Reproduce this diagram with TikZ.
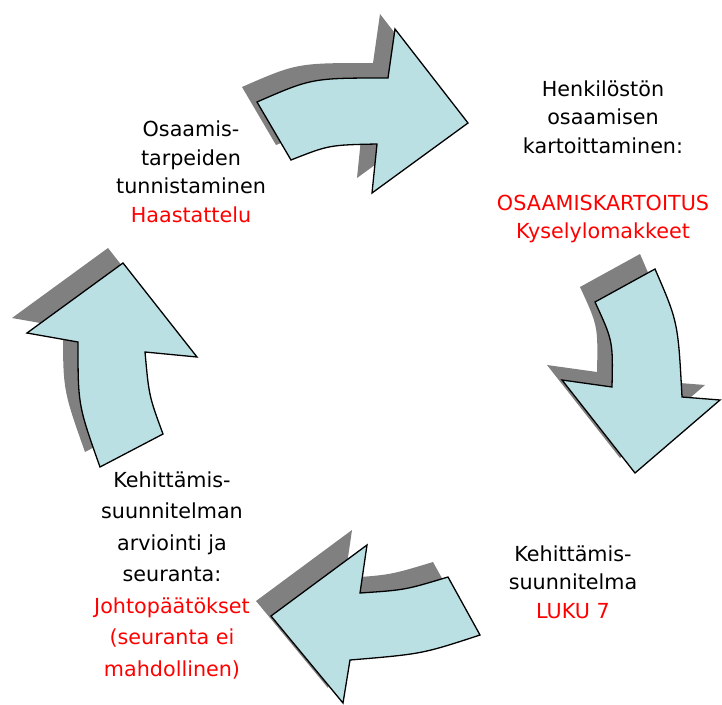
\documentclass[tikz,border=0pt]{standalone}
\usepackage{fontspec}
\setmainfont{DejaVu Sans}
\usetikzlibrary{calc}
\definecolor{arrowblue}{RGB}{187,224,227}
\definecolor{shadowgray}{RGB}{128,128,128}

% outlines of the four block arrows (picture coordinates)
\newcommand*{\arrownorth}{(257,102) -- (291,160) .. controls (329,145) .. (377,144)
  -- (372,193) -- (468,123) -- (395,29) -- (388,78) .. controls (312,78) .. cycle}
\newcommand*{\arroweast}{(595,302) -- (655,269) .. controls (678,322) .. (682,397)
  -- (720,400) -- (635,473) -- (562,380) -- (612,387) .. controls (613,341) .. cycle}
\newcommand*{\arrowsouth}{(448,577) -- (480,635) .. controls (422,654) .. (350,660)
  -- (343,703) -- (271,616) -- (367,545) -- (360,593) .. controls (405,590) .. cycle}
\newcommand*{\arrowwest}{(123,263) -- (197,357) -- (145,352) .. controls (149,396) .. (163,434)
  -- (100,467) .. controls (78,405) .. (78,342) -- (27,333) -- cycle}

\begin{document}
\begin{tikzpicture}[x=1pt,y=-1pt,
  arrowbody/.style={fill=arrowblue,draw=black,line width=1.3pt,line join=miter},
  arrowshadow/.style={fill=shadowgray,shift={(-15,-15)}},
  phase/.style={align=center,font=\fontsize{20.7}{28.5}\selectfont}]
\useasboundingbox (0,0) rectangle (722,704);
% shadows first, then the arrows
\foreach \p in {\arrownorth,\arroweast,\arrowsouth,\arrowwest}
  \fill[arrowshadow] \p;
\foreach \p in {\arrownorth,\arroweast,\arrowsouth,\arrowwest}
  \draw[arrowbody] \p;
% the labels
\node[phase] (tunnistus) at (191,172) {Osaamis-\\tarpeiden\\tunnistaminen\\\textcolor{red}{Haastattelu}};
\node[phase] (kartoitus) at (603,162) {Henkilöstön\\osaamisen\\kartoittaminen:\\[28.5pt]\textcolor{red}{OSAAMISKARTOITUS}\\\textcolor{red}{Kyselylomakkeet}};
\node[phase] (suunnitelma) at (573,582) {Kehittämis-\\suunnitelma\\\textcolor{red}{LUKU 7}};
\node[phase,font=\fontsize{20.7}{31.5}\selectfont] (arviointi) at (172,575) {Kehittämis-\\suunnitelman\\arviointi ja\\seuranta:\\\textcolor{red}{Johtopäätökset}\\\textcolor{red}{(seuranta ei}\\\textcolor{red}{mahdollinen)}};
\end{tikzpicture}
\end{document}
